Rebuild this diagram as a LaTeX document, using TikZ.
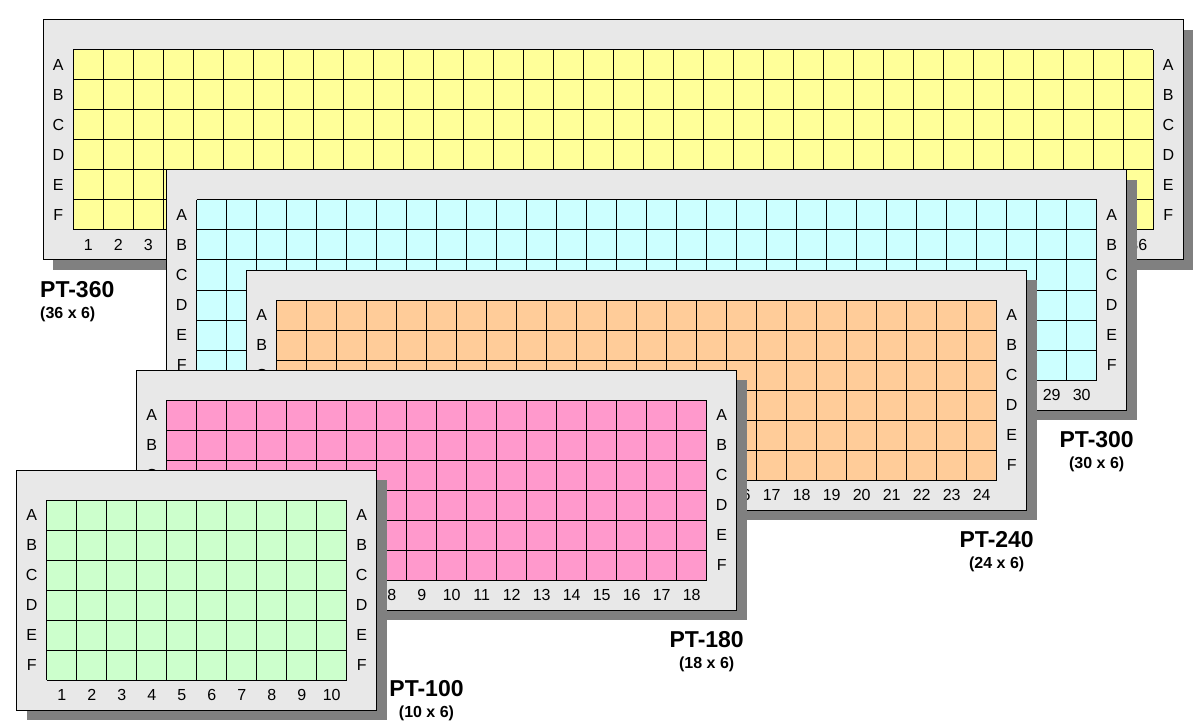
\documentclass[tikz,border=0pt]{standalone}
\usepackage{fontspec}
\setmainfont{Liberation Sans}
\usetikzlibrary{positioning}
\definecolor{wellyellow}{HTML}{FFFF99}
\definecolor{wellcyan}{HTML}{CCFFFF}
\definecolor{wellorange}{HTML}{FFCC99}
\definecolor{wellpink}{HTML}{FF99CC}
\definecolor{wellgreen}{HTML}{CCFFCC}
\definecolor{plategray}{HTML}{E8E8E8}
\definecolor{shadowgray}{HTML}{808080}

\begin{document}
\begin{tikzpicture}[x=1pt, y=-1pt, every node/.style={inner sep=0pt}, plate/.style={draw=black, line width=1pt, fill=plategray}, well/.style={draw=black, line width=1pt}, lab/.style={font=\fontsize{16}{18}\selectfont}, ptname/.style={font=\bfseries\fontsize{23}{26}\selectfont}, ptsize/.style={font=\bfseries\fontsize{16}{19}\selectfont}]
    \useasboundingbox (0,0) rectangle (1197,722);

    % one plate per entry: left/top/columns/colour/model/title x/title y/anchor
    \foreach \L/\T/\n/\col/\nm/\tx/\ty/\anc in {43.3/20/36/wellyellow/360/40/290/west,166.7/170/30/wellcyan/300/1096.7/440/center,246.7/270/24/wellorange/240/996.7/540/center,136.7/370/18/wellpink/180/706.7/640/center,16.7/470/10/wellgreen/100/426.5/689/center}{
      \pgfmathsetmacro\gw{30*\n}
      \begin{scope}[shift={(\L,\T)}]
        \fill[shadowgray] (10,10) rectangle (\gw+70,250);
        \draw[plate] (0,0) rectangle (\gw+60,240);
        \fill[\col] (30,30) rectangle (\gw+30,210);
        \foreach \i in {0,...,\n}{
          \draw[well] (30+30*\i,30) -- (30+30*\i,210);
        }
        \foreach \r in {0,...,6}{
          \draw[well] (30,30+30*\r) -- (\gw+30,30+30*\r);
        }
        \foreach \lab [count=\r from 0] in {A,B,C,D,E,F}{
          \node[lab] (pt\nm-l\lab) at (15,45+30*\r) {\lab};
          \node[lab] (pt\nm-r\lab) at (\gw+45,45+30*\r) {\lab};
        }
        \foreach \j in {1,...,\n}{
          \node[lab] (pt\nm-c\j) at (15+30*\j,225) {\j};
        }
      \end{scope}
      \node[ptname, anchor=\anc] (pt\nm-title) at (\tx,\ty) {PT-\nm};
      \node[ptsize, anchor=\anc] (pt\nm-size) at (\tx,\ty+24) {(\n\ x 6)};
    }
\end{tikzpicture}
\end{document}
